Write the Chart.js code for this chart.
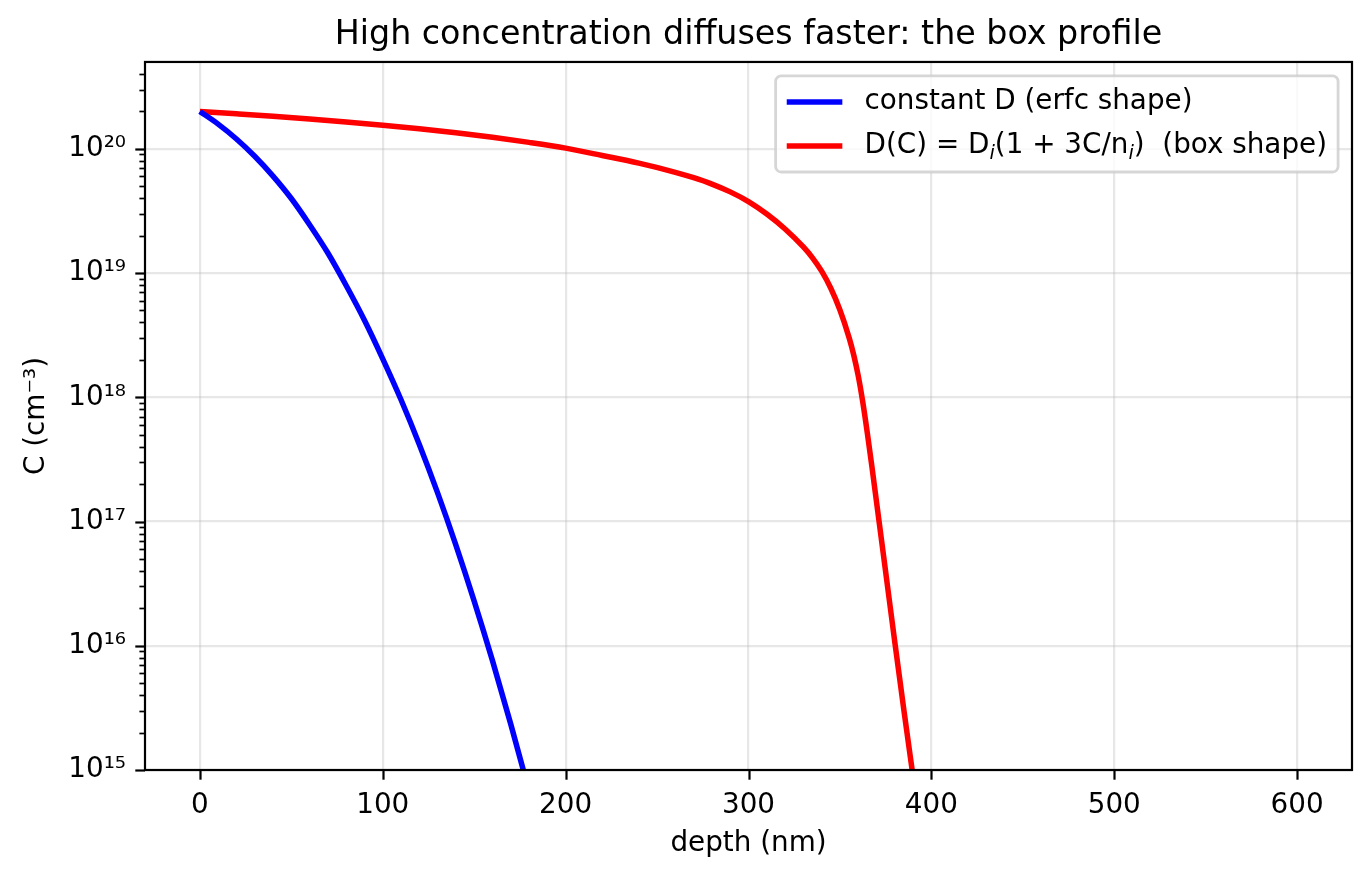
<!DOCTYPE html>
<html>
<head>
<meta charset="utf-8">
<title>Box profile</title>
<script src="https://cdn.jsdelivr.net/npm/chart.js@4.4.1/dist/chart.umd.min.js"></script>
<style>
  html, body { margin: 0; padding: 0; background: #fff; }
  #wrap { width: 1371px; height: 877px; }
</style>
</head>
<body>
<div id="wrap"><canvas id="chart"></canvas></div>
<script>
// depth (nm) and concentration (cm^-3)
var DEPTH_CONST = [0, 10, 20, 30, 40, 50, 60, 70, 80, 90, 100, 110, 120, 130, 140, 150, 160, 170, 180];
var C_CONST = [2.00e20, 1.58e20, 1.20e20, 8.71e19, 6.03e19, 3.98e19, 2.45e19, 1.45e19, 7.94e18, 4.17e18,
               2.04e18, 9.55e17, 4.17e17, 1.70e17, 6.46e16, 2.29e16, 7.59e15, 2.34e15, 6.76e14];

var DEPTH_BOX = [0, 20, 40, 60, 80, 100, 120, 140, 160, 180, 200, 220, 240, 260, 270, 280, 290, 300,
                 310, 320, 330, 335, 340, 345, 350, 355, 357.5, 360, 362.5, 365, 367.5, 370, 375, 380, 385, 390];
var C_BOX = [2.00e20, 1.914e20, 1.828e20, 1.738e20, 1.644e20, 1.549e20, 1.449e20, 1.346e20, 1.239e20, 1.127e20,
             1.012e20, 8.83e19, 7.66e19, 6.47e19, 5.85e19, 5.20e19, 4.50e19, 3.76e19,
             2.985e19, 2.265e19, 1.622e19, 1.326e19, 1.035e19, 7.54e18, 5.04e18, 3.02e18, 2.20e18, 1.488e18,
             9.12e17, 5.13e17, 2.75e17, 1.442e17, 3.93e16, 1.069e16, 3.00e15, 8.84e14];

var SERIES_LABELS = ['constant D (erfc shape)', 'D(C) = D\u1d62(1 + 3C/n\u1d62)  (box shape)'];
var SERIES_COLORS = ['#0000ff', '#ff0000'];

var X_TICKS = [0, 100, 200, 300, 400, 500, 600];
var Y_DECADES = [15, 16, 17, 18, 19, 20];
var X_MIN = -30, X_MAX = 630;
var Y_MIN = 1e15, Y_MAX = 5e20;

var FONT = "'DejaVu Sans', sans-serif";
var FS = 27.8;
var GRID = 'rgba(176,176,176,0.3)';
var SUP = '\u2070\u00b9\u00b2\u00b3\u2074\u2075\u2076\u2077\u2078\u2079';

function sup(n) {
    return String(n).split('').map(function (d) { return SUP[+d]; }).join('');
}
function isDecade(v) {
    var e = Math.round(Math.log10(v));
    return Math.abs(v - Math.pow(10, e)) < 1e-6 * v;
}
function toPoints(xs, ys) {
    return xs.map(function (x, i) { return { x: x, y: ys[i] }; });
}

// spines, outward tick marks and the legend box, matplotlib style
var framePlugin = {
    id: 'frame',
    afterDraw: function (chart) {
        var ctx = chart.ctx, a = chart.chartArea;
        var xs = chart.scales.x, ys = chart.scales.y;
        ctx.save();
        ctx.strokeStyle = '#000';
        ys.ticks.forEach(function (t) {
            var y = Math.round(ys.getPixelForValue(t.value)) + 0.5;
            var maj = isDecade(t.value);
            ctx.lineWidth = maj ? 2.2 : 1.7;
            ctx.beginPath();
            ctx.moveTo(a.left, y);
            ctx.lineTo(a.left - (maj ? 9.7 : 5.6), y);
            ctx.stroke();
        });
        xs.ticks.forEach(function (t) {
            var x = Math.round(xs.getPixelForValue(t.value)) + 0.5;
            ctx.lineWidth = 2.2;
            ctx.beginPath();
            ctx.moveTo(x, a.bottom);
            ctx.lineTo(x, a.bottom + 9.7);
            ctx.stroke();
        });
        ctx.lineWidth = 2.2;
        ctx.strokeRect(a.left, a.top, a.right - a.left, a.bottom - a.top);

        // legend
        var pad = 0.4 * FS, handleLen = 2 * FS, textPad = 0.8 * FS, rowH = 30, gap = 0.5 * FS;
        var subFs = FS * 0.7;
        function segs(label) {
            var out = [], buf = '';
            for (var i = 0; i < label.length; i++) {
                if (label[i] === '\u1d62') {
                    if (buf) out.push({ t: buf, sub: false });
                    out.push({ t: 'i', sub: true });
                    buf = '';
                } else buf += label[i];
            }
            if (buf) out.push({ t: buf, sub: false });
            return out;
        }
        function segFont(s) { return s.sub ? 'italic ' + subFs + 'px ' + FONT : FS + 'px ' + FONT; }
        var rows = chart.data.datasets.map(function (ds) { return { ds: ds, segs: segs(ds.label) }; });
        var maxW = 0;
        rows.forEach(function (r) {
            var w = 0;
            r.segs.forEach(function (s) { ctx.font = segFont(s); w += ctx.measureText(s.t).width; });
            if (w > maxW) maxW = w;
        });
        var boxW = pad + handleLen + textPad + maxW + pad;
        var boxH = pad * 2 + rowH * rows.length + gap * (rows.length - 1);
        var bx = a.right - 0.5 * FS - boxW, by = a.top + 0.5 * FS;
        ctx.beginPath();
        ctx.roundRect(bx, by, boxW, boxH, 0.2 * FS);
        ctx.fillStyle = 'rgba(255,255,255,0.8)';
        ctx.fill();
        ctx.lineWidth = 2.8;
        ctx.strokeStyle = 'rgba(204,204,204,0.8)';
        ctx.stroke();
        rows.forEach(function (r, i) {
            var cy = by + pad + rowH / 2 + i * (rowH + gap);
            ctx.strokeStyle = r.ds.borderColor;
            ctx.lineWidth = 5.5;
            ctx.beginPath();
            ctx.moveTo(bx + pad, cy);
            ctx.lineTo(bx + pad + handleLen, cy);
            ctx.stroke();
            var tx = bx + pad + handleLen + textPad;
            ctx.fillStyle = '#000';
            ctx.textBaseline = 'middle';
            ctx.textAlign = 'left';
            r.segs.forEach(function (s) {
                ctx.font = segFont(s);
                ctx.fillText(s.t, tx, s.sub ? cy + 8 : cy);
                tx += ctx.measureText(s.t).width;
            });
        });
        ctx.restore();
    }
};

Chart.defaults.font.family = FONT;
Chart.defaults.color = '#000';

new Chart(document.getElementById('chart'), {
    type: 'line',
    data: {
        datasets: [
            { label: SERIES_LABELS[0], data: toPoints(DEPTH_CONST, C_CONST), borderColor: SERIES_COLORS[0] },
            { label: SERIES_LABELS[1], data: toPoints(DEPTH_BOX, C_BOX), borderColor: SERIES_COLORS[1] }
        ]
    },
    options: {
        responsive: true,
        maintainAspectRatio: false,
        animation: false,
        layout: { padding: { left: 0, right: 19, top: 0, bottom: 0 } },
        elements: {
            line: { borderWidth: 5.5, cubicInterpolationMode: 'monotone', fill: false },
            point: { radius: 0, hoverRadius: 0 }
        },
        datasets: { line: { clip: 0 } },
        plugins: {
            legend: { display: false },
            tooltip: { enabled: false },
            title: {
                display: true,
                fullSize: false,
                text: 'High concentration diffuses faster: the box profile',
                font: { size: 33.3, weight: 'normal', family: FONT },
                padding: { top: 15, bottom: 7 },
                color: '#000'
            }
        },
        scales: {
            x: {
                type: 'linear',
                min: X_MIN,
                max: X_MAX,
                afterBuildTicks: function (s) { s.ticks = X_TICKS.map(function (v) { return { value: v }; }); },
                afterFit: function (s) { s.height = 107; },
                border: { display: false },
                grid: { color: GRID, lineWidth: 2.2, drawTicks: false },
                ticks: { font: { size: FS }, padding: 19, maxRotation: 0, autoSkip: false },
                title: { display: true, text: 'depth (nm)', font: { size: FS }, padding: { top: 0, bottom: 17 } }
            },
            y: {
                type: 'logarithmic',
                min: Y_MIN,
                max: Y_MAX,
                afterBuildTicks: function (s) {
                    var t = [];
                    Y_DECADES.forEach(function (e) {
                        for (var k = 1; k < 10; k++) {
                            var v = k * Math.pow(10, e);
                            if (v < Y_MAX * 0.999) t.push({ value: v });
                        }
                    });
                    s.ticks = t;
                },
                afterFit: function (s) { s.width = 145; },
                border: { display: false },
                grid: {
                    lineWidth: 2.2,
                    drawTicks: false,
                    color: function (c) { return c.tick && isDecade(c.tick.value) ? GRID : 'rgba(0,0,0,0)'; }
                },
                ticks: {
                    font: { size: FS },
                    padding: 19,
                    autoSkip: false,
                    callback: function (v) {
                        return isDecade(v) ? '10' + sup(Math.round(Math.log10(v))) : '';
                    }
                },
                title: { display: true, text: 'C (cm\u207b\u00b3)', font: { size: FS }, padding: { top: 20, bottom: 0 } }
            }
        }
    },
    plugins: [framePlugin]
});
</script>
</body>
</html>
